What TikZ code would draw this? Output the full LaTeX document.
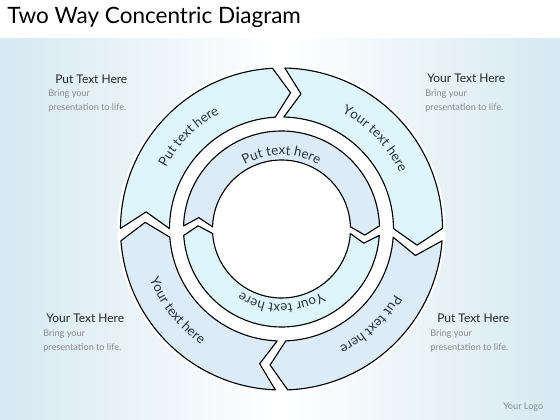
\documentclass[tikz,border=0pt]{standalone}
\usepackage{fontspec}
\setmainfont{Lato}
\usetikzlibrary{decorations.text}
\definecolor{bgblue}{HTML}{D6E9F2}
\definecolor{ringcyan}{HTML}{DEF6FB}
\definecolor{ringblue}{HTML}{DDEBF9}
\definecolor{ringtext}{HTML}{2B3440}
\definecolor{bodygray}{HTML}{8A8A8A}
\newcommand{\ringfont}{\fontsize{9.5}{11}\selectfont}
% one arrow piece of a ring: from, to, inner r, outer r, gap, tip depth, fill
\newcommand{\ringpiece}[7]{%
  \pgfmathsetmacro{\pA}{#1-#5}
  \pgfmathsetmacro{\pB}{#2+#5}
  \pgfmathsetmacro{\pAt}{#1-#5-#6}
  \pgfmathsetmacro{\pBt}{#2+#5-#6}
  \pgfmathsetmacro{\pM}{(#3+#4)/2}
  \filldraw[piece, fill=#7] (\pA:#4) arc[start angle=\pA, end angle=\pB, radius=#4]
       -- (\pBt:\pM) -- (\pB:#3) arc[start angle=\pB, end angle=\pA, radius=#3]
       -- (\pAt:\pM) -- cycle;
}
% text bent along an arc: from, to, radius, text
\newcommand{\ringtext}[4]{%
  \path[decorate, decoration={text along path, text align=center,
        text color=ringtext, text={|\ringfont|#4}}]
       (#1:#3) arc[start angle=#1, end angle=#2, radius=#3];
}
\tikzset{
  piece/.style={draw=black, line width=0.8pt, line join=round,
                preaction={draw=white, line width=3pt}},
  head/.style={font=\fontsize{8.5}{10}\selectfont, anchor=west, inner sep=0pt, text=black!85},
  body/.style={font=\fontsize{6.5}{10}\selectfont, align=left, anchor=west, inner sep=0pt, text=bodygray}
}
\begin{document}
\begin{tikzpicture}[x=0.025cm, y=0.025cm]
    \useasboundingbox (0,0) rectangle (560,420);
    % background
    \shade[left color=bgblue, right color=bgblue, middle color=white] (0,0) rectangle (560,382);
    \fill[white] (0,382) rectangle (560,420);
    \node[anchor=west, inner sep=0pt, font=\fontsize{16}{19}\selectfont] (title) at (7,403)
         {Two Way Concentric Diagram};
    % rings
    \begin{scope}[shift={(281.5,191)}]
        \fill[white] (0,0) circle[radius=164];
        % outer ring
        \ringpiece{182}{91}{112}{161}{2.2}{7}{ringcyan}
        \ringpiece{91}{-2}{112}{161}{2.2}{7}{ringcyan}
        \ringpiece{-2}{-90}{112}{161}{2.2}{7}{ringblue}
        \ringpiece{270}{182}{112}{161}{2.2}{7}{ringblue}
        % inner ring
        \ringpiece{181}{-1}{69}{98}{2.8}{6}{ringblue}
        \ringpiece{-1}{-179}{69}{98}{2.8}{6}{ringcyan}
        % labels on the rings
        \ringtext{168}{102}{131}{Put text here}
        \ringtext{77}{11}{131}{Your text here}
        \ringtext{-14}{-80}{131}{Put text here}
        \ringtext{185}{251}{141}{Your text here}
        \ringtext{150}{30}{74}{Put text here}
        \ringtext{-30}{-150}{75}{Your text here}
    \end{scope}
    % side notes
    \node[head] (hTL) at (55,341) {Put Text Here};
    \node[body] (bTL) at (48,319) {Bring your\\presentation to life.};
    \node[head] (hTR) at (427,342) {Your Text Here};
    \node[body] (bTR) at (425,319) {Bring your\\presentation to life.};
    \node[head] (hBL) at (46,102) {Your Text Here};
    \node[body] (bBL) at (43,79) {Bring your\\presentation to life.};
    \node[head] (hBR) at (437,102) {Put Text Here};
    \node[body] (bBR) at (430,79) {Bring your\\presentation to life.};
    \node[anchor=west, inner sep=0pt, font=\fontsize{6.5}{8}\selectfont, text=bodygray]
         (logo) at (503,13) {Your Logo};
\end{tikzpicture}
\end{document}
